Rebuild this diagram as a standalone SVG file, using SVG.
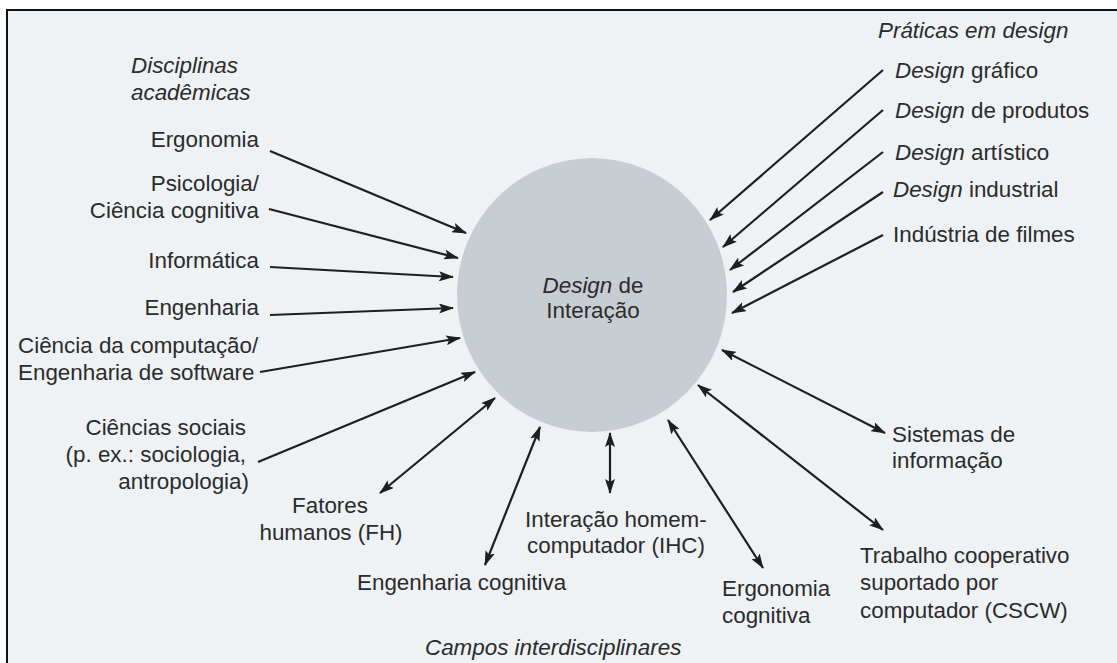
<svg xmlns="http://www.w3.org/2000/svg" width="1117" height="663" viewBox="0 0 1117 663">
<style>
text{font-family:"Liberation Sans",Arial,sans-serif;font-size:22.4px;fill:#2b2b2b}
.i{font-style:italic}
.e{text-anchor:end}
.m{text-anchor:middle}
.c{stroke:#1e1e1e;stroke-width:2.2;fill:none;marker-end:url(#ah)}
.d{marker-start:url(#ah)}
</style>
<defs>
<marker id="ah" viewBox="0 0 15 10" refX="14" refY="5" markerWidth="15" markerHeight="10" markerUnits="userSpaceOnUse" orient="auto-start-reverse">
<path d="M0,0 L15,5 L0,10 L3,5 z" fill="#1e1e1e"/>
</marker>
</defs>
<rect x="0" y="0" width="1117" height="663" fill="#ffffff"/>
<rect id="frame" x="7" y="10" width="1120" height="670" fill="#eef2f5" stroke="#111" stroke-width="2"/>

<g id="center">
<ellipse cx="592" cy="295" rx="135" ry="137" fill="#c8cdd3"/>
<text x="593" y="293" class="m"><tspan class="i">Design</tspan> de</text>
<text x="593" y="318" class="m">Interação</text>
</g>

<g id="hdr-disciplinas"><text x="131" y="73" class="i">Disciplinas</text><text x="131" y="100" class="i">acadêmicas</text></g>
<g id="ergonomia"><text x="259" y="147" class="e">Ergonomia</text></g>
<g id="psicologia"><text x="259" y="191" class="e">Psicologia/</text><text x="259" y="218" class="e">Ciência cognitiva</text></g>
<g id="informatica"><text x="259" y="268" class="e">Informática</text></g>
<g id="engenharia"><text x="259" y="315" class="e">Engenharia</text></g>
<g id="computacao"><text x="18" y="353">Ciência da computação/</text><text x="18" y="380">Engenharia de software</text></g>
<g id="sociais"><text x="246" y="435" class="e">Ciências sociais</text><text x="246" y="462" class="e">(p. ex.: sociologia,</text><text x="249" y="489" class="e">antropologia)</text></g>
<g id="fatores"><text x="330" y="513" class="m">Fatores</text><text x="331" y="540" class="m">humanos (FH)</text></g>
<g id="engcog"><text x="357" y="590">Engenharia cognitiva</text></g>
<g id="ihc"><text x="525" y="527">Interação homem-</text><text x="527" y="553">computador (IHC)</text></g>
<g id="ergcog"><text x="722" y="596">Ergonomia</text><text x="722" y="623">cognitiva</text></g>
<g id="cscw"><text x="860" y="563">Trabalho cooperativo</text><text x="860" y="590">suportado por</text><text x="860" y="618">computador (CSCW)</text></g>
<g id="sistemas"><text x="892" y="442">Sistemas de</text><text x="892" y="468">informação</text></g>
<g id="hdr-campos"><text x="425" y="655" class="i">Campos interdisciplinares</text></g>

<g id="hdr-praticas"><text x="878" y="38" class="i">Práticas em design</text></g>
<g id="grafico"><text x="895" y="78"><tspan class="i">Design</tspan> gráfico</text></g>
<g id="produtos"><text x="895" y="118"><tspan class="i">Design</tspan> de produtos</text></g>
<g id="artistico"><text x="895" y="160"><tspan class="i">Design</tspan> artístico</text></g>
<g id="industrial"><text x="893" y="197"><tspan class="i">Design</tspan> industrial</text></g>
<g id="filmes"><text x="893" y="242">Indústria de filmes</text></g>

<g id="connectors">
<line class="c" x1="270" y1="151" x2="466" y2="233"/>
<line class="c" x1="269" y1="209" x2="458" y2="258"/>
<line class="c" x1="270" y1="267" x2="453" y2="277"/>
<line class="c" x1="270" y1="315" x2="453" y2="308"/>
<line class="c" x1="260" y1="372" x2="460" y2="338"/>
<line class="c" x1="258" y1="462" x2="475" y2="372"/>
<line class="c d" x1="380" y1="493" x2="495" y2="398"/>
<line class="c d" x1="485" y1="565" x2="540" y2="427"/>
<line class="c d" x1="610" y1="493" x2="610" y2="433"/>
<line class="c d" x1="763" y1="568" x2="668" y2="420"/>
<line class="c d" x1="883" y1="530" x2="698" y2="385"/>
<line class="c d" x1="885" y1="433" x2="722" y2="350"/>
<line class="c" x1="883" y1="70" x2="710" y2="220"/>
<line class="c" x1="883" y1="110" x2="723" y2="247"/>
<line class="c" x1="883" y1="152" x2="730" y2="270"/>
<line class="c" x1="883" y1="192" x2="733" y2="292"/>
<line class="c" x1="883" y1="235" x2="732" y2="313"/>
</g>
</svg>
